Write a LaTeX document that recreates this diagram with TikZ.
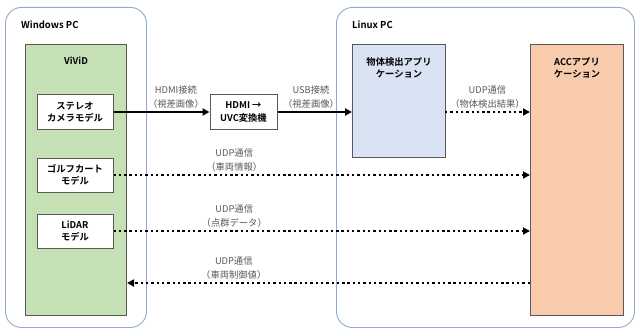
\documentclass[tikz,border=0pt]{standalone}
\usepackage{fontspec}
\setmainfont{Noto Sans CJK JP}[BoldFont={Noto Sans CJK JP Bold}]
\usetikzlibrary{arrows.meta}
\definecolor{pcline}{HTML}{8FAACC}
\definecolor{boxline}{HTML}{595959}
\definecolor{labelgray}{HTML}{595959}
\definecolor{vividfill}{HTML}{C5E0B4}
\definecolor{detfill}{HTML}{DAE3F3}
\definecolor{accfill}{HTML}{F8CBAD}

\begin{document}
\begin{tikzpicture}[x=1pt, y=-1pt,
    pc/.style={rectangle, draw=pcline, rounded corners=16pt, line width=0.9pt, anchor=north west},
    sysbox/.style={rectangle, draw=boxline, line width=1pt, anchor=north west, inner sep=0pt},
    model/.style={rectangle, draw=boxline, fill=white, line width=1pt, minimum width=76pt, minimum height=34pt, inner sep=1pt, align=center, font=\bfseries\fontsize{9.3}{12.5}\selectfont},
    systext/.style={anchor=north, align=center, inner sep=0pt, font=\bfseries\fontsize{9.3}{12.5}\selectfont},
    title/.style={anchor=west, inner sep=0pt, font=\bfseries\fontsize{9.5}{11}\selectfont},
    link/.style={-{Triangle[length=7pt, width=7pt]}, line width=2pt},
    udp/.style={link, dash pattern=on 2.4pt off 2.9pt},
    linklabel/.style={above, align=center, inner sep=2.5pt, text=labelgray, font=\fontsize{9.3}{14}\selectfont}
]
    \useasboundingbox (0,0) rectangle (635,329);

    % PCs
    \node[pc, minimum width=141pt, minimum height=320pt] (winpc) at (5,7) {};
    \node[pc, minimum width=298pt, minimum height=320pt] (linuxpc) at (336,7) {};
    \node[title] (wintitle) at (21,25) {Windows PC};
    \node[title] (linuxtitle) at (352,25) {Linux PC};

    % Applications
    \node[sysbox, fill=vividfill, minimum width=101pt, minimum height=271pt] (vivid) at (25,44) {};
    \node[sysbox, fill=detfill, minimum width=93pt, minimum height=113pt] (det) at (352,44) {};
    \node[sysbox, fill=accfill, minimum width=93pt, minimum height=271pt] (acc) at (530,44) {};
    \node[systext] (vividtext) at ([yshift=-13pt]vivid.north) {ViViD};
    \node[systext] (dettext) at ([yshift=-13pt]det.north) {物体検出アプリ\\ケーション};
    \node[systext] (acctext) at ([yshift=-13pt]acc.north) {ACCアプリ\\ケーション};

    % Models
    \node[model] (stereo) at (75,112) {ステレオ\\カメラモデル};
    \node[model] (golf) at (75,175) {ゴルフカート\\モデル};
    \node[model] (lidar) at (75,231) {LiDAR\\モデル};
    \node[model, minimum width=67pt, minimum height=35pt] (conv) at (243.5,112) {HDMI →\\UVC変換機};
    \coordinate (ctrl) at (530,283);

    % Connections
    \draw[link] (stereo.east) -- (conv.west) node[linklabel, pos=0.65] (hdmilabel) {HDMI接続\\（視差画像）};
    \draw[link] (conv.east) -- (det.west |- conv.east) node[linklabel, pos=0.45] (usblabel) {USB接続\\（視差画像）};
    \draw[udp] (det.west |- conv.east) ++(93,0) -- (acc.west |- conv.east) node[linklabel, midway] (detlabel) {UDP通信\\（物体検出結果）};
    \draw[udp] (golf.east) -- (golf.east -| acc.west) node[linklabel, pos=0.29] (golflabel) {UDP通信\\（車両情報）};
    \draw[udp] (lidar.east) -- (lidar.east -| acc.west) node[linklabel, pos=0.29] (lidarlabel) {UDP通信\\（点群データ）};
    \draw[udp] (ctrl) -- (ctrl -| vivid.east) node[linklabel, pos=0.735] (ctrllabel) {UDP通信\\（車両制御値）};

\end{tikzpicture}
\end{document}
